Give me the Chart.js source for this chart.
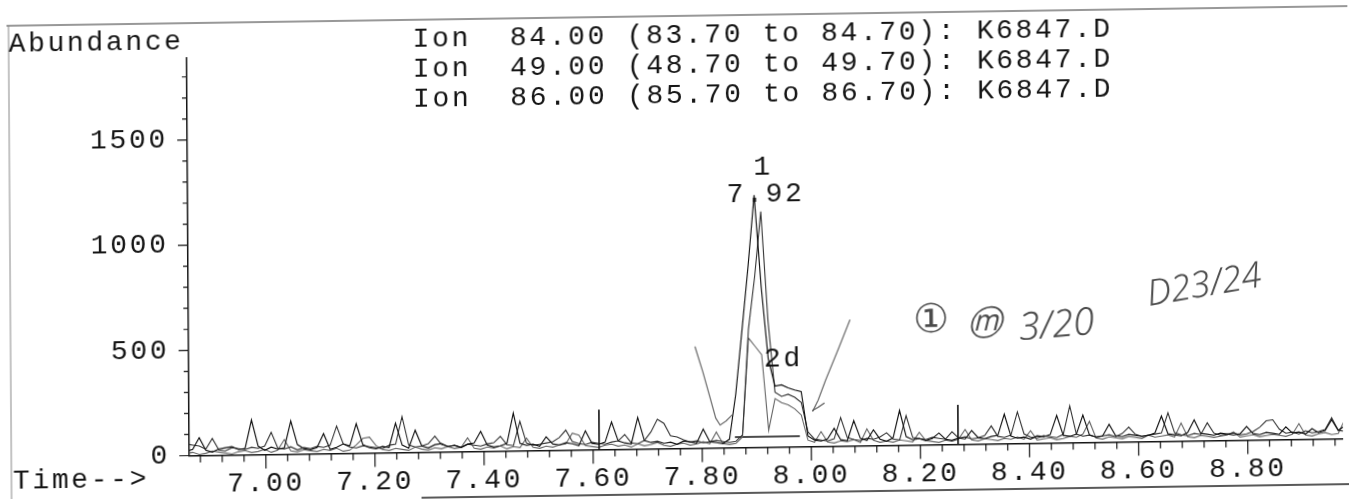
<!DOCTYPE html>
<html>
<head>
<meta charset="utf-8">
<script src="https://cdn.jsdelivr.net/npm/chart.js@4.4.1/dist/chart.umd.min.js"></script>
<style>
  html, body { margin: 0; padding: 0; background: #fff; overflow: hidden; }
  /* printed sheet sits slightly skewed on the scanner bed */
  #sheet {
    position: absolute; left: 0; top: 0; width: 1349px; height: 499px;
    transform-origin: 674.5px 249.5px;
    transform: matrix(1, -0.0147, 0.0065, 1, 0, 0);
    background: #fff;
  }
  canvas { display: block; }
</style>
</head>
<body>
<div id="sheet"><canvas id="tic" width="1349" height="499" style="width:1349px;height:499px"></canvas></div>
<script>
// Scan times (min)
const scanTimes = [
  6.854, 6.866, 6.878, 6.890, 6.902, 6.914, 6.926, 6.938, 6.950, 6.962,
  6.974, 6.986, 6.998, 7.010, 7.022, 7.034, 7.046, 7.058, 7.070, 7.082,
  7.094, 7.106, 7.118, 7.130, 7.142, 7.154, 7.166, 7.178, 7.190, 7.202,
  7.214, 7.226, 7.238, 7.250, 7.262, 7.274, 7.286, 7.298, 7.310, 7.322,
  7.334, 7.346, 7.358, 7.370, 7.382, 7.394, 7.406, 7.418, 7.430, 7.442,
  7.454, 7.466, 7.478, 7.490, 7.502, 7.514, 7.526, 7.538, 7.550, 7.562,
  7.574, 7.586, 7.598, 7.610, 7.622, 7.634, 7.646, 7.658, 7.670, 7.682,
  7.694, 7.706, 7.718, 7.730, 7.742, 7.754, 7.766, 7.778, 7.790, 7.802,
  7.814, 7.826, 7.838, 7.850, 7.862, 7.874, 7.886, 7.898, 7.910, 7.922,
  7.934, 7.946, 7.958, 7.970, 7.982, 7.994, 8.006, 8.018, 8.030, 8.042,
  8.054, 8.066, 8.078, 8.090, 8.102, 8.114, 8.126, 8.138, 8.150, 8.162,
  8.174, 8.186, 8.198, 8.210, 8.222, 8.234, 8.246, 8.258, 8.270, 8.282,
  8.294, 8.306, 8.318, 8.330, 8.342, 8.354, 8.366, 8.378, 8.390, 8.402,
  8.414, 8.426, 8.438, 8.450, 8.462, 8.474, 8.486, 8.498, 8.510, 8.522,
  8.534, 8.546, 8.558, 8.570, 8.582, 8.594, 8.606, 8.618, 8.630, 8.642,
  8.654, 8.666, 8.678, 8.690, 8.702, 8.714, 8.726, 8.738, 8.750, 8.762,
  8.774, 8.786, 8.798, 8.810, 8.822, 8.834, 8.846, 8.858, 8.870, 8.882,
  8.894, 8.906, 8.918, 8.930, 8.942, 8.954, 8.966, 8.978
];

// Extracted ion abundances, one value per scan
const ion49 = [
  20, 30, 85, 25, 15, 30, 35, 40, 25, 30,
  165, 40, 20, 35, 25, 30, 158, 45, 25, 20,
  30, 95, 20, 30, 45, 35, 140, 40, 25, 20,
  30, 25, 140, 35, 20, 105, 30, 20, 35, 40,
  25, 30, 20, 35, 40, 95, 30, 20, 25, 35,
  180, 35, 25, 30, 20, 65, 30, 25, 35, 30,
  20, 90, 30, 25, 35, 130, 40, 30, 25, 150,
  40, 30, 35, 25, 30, 20, 35, 30, 25, 90,
  30, 25, 20, 40, 253, 553, 858, 1199, 760, 420,
  290, 295, 280, 270, 262, 50, 30, 25, 35, 85,
  30, 25, 120, 35, 25, 75, 30, 20, 35, 165,
  40, 25, 30, 20, 30, 55, 25, 20, 30, 25,
  65, 30, 25, 35, 40, 140, 35, 25, 30, 20,
  35, 30, 40, 130, 35, 30, 40, 130, 35, 25,
  30, 85, 30, 25, 35, 30, 25, 30, 40, 120,
  35, 30, 25, 40, 100, 35, 30, 25, 35, 30,
  25, 30, 65, 30, 25, 35, 30, 25, 60, 30,
  35, 25, 50, 30, 40, 90, 40, 60
];
const ion84 = [
  55, 50, 45, 30, 80, 25, 20, 35, 30, 25,
  35, 30, 40, 105, 30, 25, 35, 20, 30, 25,
  35, 30, 40, 130, 45, 30, 25, 35, 30, 25,
  20, 35, 40, 170, 35, 25, 30, 40, 75, 35,
  25, 30, 20, 35, 30, 25, 35, 40, 70, 30,
  25, 140, 35, 25, 30, 35, 40, 60, 95, 40,
  30, 25, 35, 30, 25, 35, 40, 70, 30, 25,
  40, 80, 140, 120, 60, 55, 40, 30, 35, 25,
  30, 35, 30, 25, 30, 60, 560, 810, 1120, 600,
  260, 240, 250, 235, 210, 70, 35, 30, 25, 35,
  135, 40, 30, 25, 35, 30, 40, 60, 30, 25,
  140, 35, 30, 25, 35, 30, 25, 60, 30, 35,
  25, 30, 40, 85, 35, 30, 40, 150, 45, 30,
  25, 35, 30, 25, 40, 175, 40, 30, 35, 25,
  30, 35, 25, 40, 70, 35, 25, 30, 35, 40,
  135, 40, 30, 25, 35, 30, 85, 35, 25, 30,
  35, 25, 30, 40, 60, 90, 95, 50, 30, 35,
  25, 40, 30, 35, 45, 100, 40, 35
];
const ion86 = [
  10, 15, 5, 10, 20, 15, 10, 5, 15, 20,
  10, 15, 25, 10, 20, 70, 15, 10, 20, 15,
  10, 20, 15, 25, 10, 15, 40, 70, 75, 35,
  15, 10, 20, 15, 10, 25, 15, 10, 20, 15,
  25, 15, 20, 65, 15, 10, 20, 15, 25, 10,
  20, 15, 60, 15, 10, 20, 15, 25, 30, 80,
  70, 20, 15, 10, 20, 25, 15, 20, 10, 25,
  15, 20, 30, 15, 10, 20, 25, 15, 20, 30,
  20, 75, 20, 15, 20, 50, 520, 480, 440, 80,
  230, 210, 200, 180, 150, 30, 20, 70, 20, 15,
  25, 20, 30, 15, 80, 25, 15, 20, 15, 25,
  20, 15, 60, 20, 15, 10, 20, 15, 25, 70,
  20, 15, 25, 20, 15, 25, 20, 30, 20, 60,
  15, 20, 25, 15, 20, 30, 25, 40, 100, 20,
  15, 25, 20, 15, 25, 20, 15, 30, 20, 25,
  30, 20, 85, 20, 15, 25, 20, 15, 20, 25,
  40, 15, 20, 25, 15, 20, 25, 20, 15, 25,
  75, 20, 15, 25, 30, 20, 25, 90
];

// Integration baseline under the peak (start/end time, abundance)
const integTimes = [7.860, 7.979];
const integLevels = [50, 50];

// Retention window markers (time, height)
const windowTimes = [7.611, 8.269];
const windowHeights = [190, 188];

// Axis ticks
const xMajorTicks = [7.0, 7.2, 7.4, 7.6, 7.8, 8.0, 8.2, 8.4, 8.6, 8.8];
const yMajorTicks = [0, 500, 1000, 1500];
const xMinorStep = 0.04;
const yMinorStep = 100;

// Header and peak labels
const headerLines = [
  'Ion  84.00 (83.70 to 84.70): K6847.D',
  'Ion  49.00 (48.70 to 49.70): K6847.D',
  'Ion  86.00 (85.70 to 86.70): K6847.D'
];
const peakLabels = [
  { text: '1', t: 7.915, v: 1293, align: 'center' },
  { text: '7.92', t: 7.919, v: 1166, align: 'center' },
  { text: '2d', t: 7.914, v: 381, align: 'left' }
];

// Pencil marks added by the analyst (time, abundance)
const pencilStrokes = [
  [[7.788, 481], [7.802, 362], [7.815, 238], [7.825, 142], [7.833, 108], [7.844, 127], [7.855, 155]],
  [[8.072, 598], [8.050, 457], [8.027, 315], [8.013, 220], [8.003, 168]],
  [[8.003, 172], [8.013, 186], [8.024, 205]]
];
const pencilNotes = [
  { text: '\u2460', t: 8.221, v: 589, size: 40, rot: 0 },
  { text: '\u24DC', t: 8.318, v: 565, size: 34, rot: 0 },
  { text: '3/20', t: 8.451, v: 554, size: 38, rot: -4 },
  { text: 'D23/24', t: 8.722, v: 735, size: 36, rot: -9 }
];

const MONO = '"Liberation Mono", "DejaVu Sans Mono", monospace';
const MONO_SIZE = 28;
const LETTER_SP = '2.65px';
const INK = '#151515';

function series(values) {
  return values.map((v, i) => ({ x: scanTimes[i], y: v }));
}

const sheetPlugin = {
  id: 'sheet',
  beforeDraw(chart) {
    const c = chart.ctx;
    c.save();
    c.fillStyle = '#fff';
    c.fillRect(0, 0, chart.width, chart.height);
    c.restore();
    c.letterSpacing = LETTER_SP;
  },
  afterDraw(chart) {
    const c = chart.ctx;
    const xs = chart.scales.x, ys = chart.scales.y;
    const area = chart.chartArea;
    const px = t => xs.getPixelForValue(t);
    const py = v => ys.getPixelForValue(v);

    c.save();
    // page border lines
    c.strokeStyle = '#333';
    c.lineWidth = 1.2;
    c.beginPath(); c.moveTo(8, 16); c.lineTo(1349, 16); c.stroke();
    c.strokeStyle = '#888';
    c.lineWidth = 1;
    c.beginPath(); c.moveTo(10, 16); c.lineTo(10, 499); c.stroke();
    c.strokeStyle = '#222';
    c.lineWidth = 1.6;
    c.beginPath(); c.moveTo(420, 494); c.lineTo(1349, 494); c.stroke();

    // axis tick marks
    c.strokeStyle = INK;
    c.lineWidth = 1.2;
    c.beginPath();
    for (let k = Math.ceil(xs.min / xMinorStep - 1e-6); k * xMinorStep <= xs.max + 1e-9; k++) {
      const t = k * xMinorStep;
      const major = xMajorTicks.some(m => Math.abs(m - t) < 1e-6);
      const x = px(t);
      c.moveTo(x, area.bottom);
      c.lineTo(x, area.bottom + (major ? 14 : 7));
    }
    for (let v = 0; v <= ys.max; v += yMinorStep) {
      const major = yMajorTicks.includes(v);
      const y = py(v);
      c.moveTo(area.left, y);
      c.lineTo(area.left - (major ? 10 : 5), y);
    }
    c.stroke();

    // retention window markers
    c.lineWidth = 1.6;
    c.beginPath();
    windowTimes.forEach((t, i) => {
      c.moveTo(px(t), py(0));
      c.lineTo(px(t), py(windowHeights[i]));
    });
    c.stroke();

    // printed text
    c.fillStyle = INK;
    c.font = MONO_SIZE + 'px ' + MONO;
    c.letterSpacing = LETTER_SP;
    c.textBaseline = 'alphabetic';
    c.textAlign = 'left';
    c.fillText('Abundance', 10, 42);
    c.fillText('Time-->', 11.5, 478.5);
    headerLines.forEach((s, i) => c.fillText(s, 414, 42.5 + i * 30));
    peakLabels.forEach(l => {
      c.textAlign = l.align;
      c.fillText(l.text, px(l.t), py(l.v));
    });

    // pencil marks
    c.strokeStyle = 'rgba(90,90,90,0.85)';
    c.lineWidth = 1.3;
    c.lineJoin = 'round';
    c.lineCap = 'round';
    pencilStrokes.forEach(stroke => {
      c.beginPath();
      stroke.forEach(([t, v], i) => {
        if (i === 0) c.moveTo(px(t), py(v)); else c.lineTo(px(t), py(v));
      });
      c.stroke();
    });
    c.letterSpacing = '0px';
    c.fillStyle = 'rgba(55,55,55,0.9)';
    c.textAlign = 'center';
    c.textBaseline = 'middle';
    pencilNotes.forEach(n => {
      c.save();
      c.translate(px(n.t), py(n.v));
      c.rotate(n.rot * Math.PI / 180);
      c.font = 'italic 300 ' + n.size + 'px "Noto Sans", "DejaVu Sans", sans-serif';
      c.fillText(n.text, 0, 0);
      c.restore();
    });
    c.restore();
  }
};

const tickFont = { family: MONO, size: MONO_SIZE, weight: 'normal' };

new Chart(document.getElementById('tic'), {
  type: 'line',
  data: {
    datasets: [
      { label: 'Ion 49.00', data: series(ion49), borderColor: '#111', borderWidth: 1.15 },
      { label: 'Ion 84.00', data: series(ion84), borderColor: '#333', borderWidth: 1.1 },
      { label: 'Ion 86.00', data: series(ion86), borderColor: '#666', borderWidth: 1.1 },
      { label: 'baseline', data: integTimes.map((t, i) => ({ x: t, y: integLevels[i] })), borderColor: '#111', borderWidth: 1.3 }
    ]
  },
  options: {
    responsive: false,
    animation: false,
    events: [],
    parsing: false,
    elements: { point: { radius: 0 }, line: { tension: 0, borderJoinStyle: 'miter', fill: false } },
    layout: { padding: { left: 0, right: 7.2, top: 50.8, bottom: 0 } },
    plugins: { legend: { display: false }, tooltip: { enabled: false }, title: { display: false } },
    scales: {
      x: {
        type: 'linear',
        min: 6.8596,
        max: 8.9745,
        afterFit: s => { s.height = 50.5; },
        afterBuildTicks: s => { s.ticks = xMajorTicks.map(v => ({ value: v })); },
        grid: { display: true, drawOnChartArea: false, drawTicks: false, color: 'rgba(0,0,0,0)' },
        border: { display: true, color: INK, width: 1.5 },
        ticks: {
          autoSkip: false, maxRotation: 0, minRotation: 0, padding: 12.7,
          font: tickFont, color: INK,
          callback: v => Number(v).toFixed(2)
        }
      },
      y: {
        type: 'linear',
        min: 0,
        max: 1890,
        afterFit: s => { s.width = 188; },
        afterBuildTicks: s => { s.ticks = yMajorTicks.map(v => ({ value: v })); },
        grid: { display: true, drawOnChartArea: false, drawTicks: false, color: 'rgba(0,0,0,0)' },
        border: { display: true, color: INK, width: 1.5 },
        ticks: {
          padding: 19.4,
          font: tickFont, color: INK,
          callback: v => String(v)
        }
      }
    }
  },
  plugins: [sheetPlugin]
});
</script>
</body>
</html>
